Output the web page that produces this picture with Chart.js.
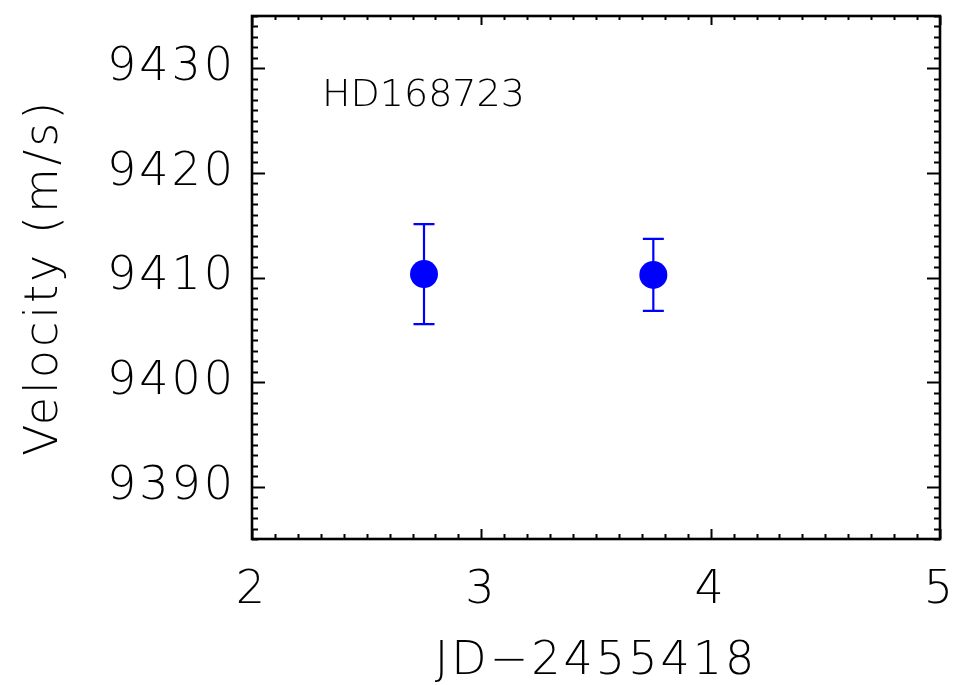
<!DOCTYPE html>
<html lang="en">
<head>
    <meta charset="UTF-8">
    <title>HD168723 velocity</title>
    <style>
        body {
            margin: 0;
            padding: 0;
            background-color: #fff;
        }
        #wrap {
            width: 960px;
            height: 685px;
        }
    </style>
    <script src="https://cdn.jsdelivr.net/npm/chart.js"></script>
</head>
<body>
    <div id="wrap"><canvas id="rv-chart" width="960" height="685"></canvas></div>

    <script>
        // data
        const starName = 'HD168723';
        const jdOffset = [2.75, 3.75];
        const velocity = [9410.33, 9410.25];
        const velErr = [4.78, 3.45];

        const xTicks = [2, 3, 4, 5];
        const yTicks = [9390, 9400, 9410, 9420, 9430];

        const FONT = "'DejaVu Sans', sans-serif";

        // the original font is a wide stroke font, so spread the letters a little
        const spacingPlugin = {
            id: 'spacing',
            beforeDraw(chart) {
                chart.ctx.letterSpacing = '3px';
            }
        };

        // frame with inward ticks on all four sides, like IDL plots
        const framePlugin = {
            id: 'frame',
            afterDraw(chart) {
                const ctx = chart.ctx;
                const a = chart.chartArea;
                const xs = chart.scales.x;
                const ys = chart.scales.y;
                ctx.save();
                ctx.strokeStyle = '#000';
                ctx.lineWidth = 2;
                ctx.beginPath();
                // x ticks: minor every 0.1
                for (let i = 0; i <= 30; i++) {
                    const v = 2 + i / 10;
                    const px = Math.round(xs.getPixelForValue(v)) + 0.5;
                    const major = i % 10 === 0;
                    const lb = major ? 10 : 5;
                    const lt = major ? 9 : 4;
                    ctx.moveTo(px, a.bottom);
                    ctx.lineTo(px, a.bottom - lb);
                    ctx.moveTo(px, a.top);
                    ctx.lineTo(px, a.top + lt);
                }
                // y ticks: minor every 1
                for (let v = 9385; v <= 9435; v++) {
                    const py = Math.round(ys.getPixelForValue(v)) + 0.5;
                    const major = v % 10 === 0;
                    const len = major ? 13 : 6;
                    ctx.moveTo(a.left, py);
                    ctx.lineTo(a.left + len, py);
                    ctx.moveTo(a.right, py);
                    ctx.lineTo(a.right - len, py);
                }
                ctx.stroke();
                ctx.lineWidth = 2.6;
                ctx.strokeRect(a.left, a.top, a.right - a.left, a.bottom - a.top);

                // star label
                ctx.letterSpacing = '0px';
                ctx.fillStyle = '#000';
                ctx.font = '200 38px ' + FONT;
                ctx.textAlign = 'left';
                ctx.textBaseline = 'middle';
                ctx.fillText(starName, xs.getPixelForValue(2.305), ys.getPixelForValue(9427.3));
                ctx.restore();
            }
        };

        // vertical error bars with caps
        const errorBarPlugin = {
            id: 'errorBars',
            beforeDatasetsDraw(chart) {
                const ctx = chart.ctx;
                const xs = chart.scales.x;
                const ys = chart.scales.y;
                ctx.save();
                ctx.strokeStyle = '#0000ff';
                ctx.lineWidth = 2.2;
                ctx.beginPath();
                for (let i = 0; i < jdOffset.length; i++) {
                    const px = xs.getPixelForValue(jdOffset[i]);
                    const top = ys.getPixelForValue(velocity[i] + velErr[i]);
                    const bot = ys.getPixelForValue(velocity[i] - velErr[i]);
                    ctx.moveTo(px, top);
                    ctx.lineTo(px, bot);
                    ctx.moveTo(px - 10.5, top);
                    ctx.lineTo(px + 10.5, top);
                    ctx.moveTo(px - 10.5, bot);
                    ctx.lineTo(px + 10.5, bot);
                }
                ctx.stroke();
                ctx.restore();
            }
        };

        const points = jdOffset.map((x, i) => ({ x: x, y: velocity[i] }));

        new Chart(document.getElementById('rv-chart'), {
            type: 'scatter',
            data: {
                datasets: [{
                    data: points,
                    backgroundColor: '#0000ff',
                    borderColor: '#0000ff',
                    pointRadius: 14,
                    pointHoverRadius: 14,
                    borderWidth: 0
                }]
            },
            options: {
                responsive: false,
                animation: false,
                events: [],
                layout: { padding: { top: 16, right: 20, left: 0, bottom: 0 } },
                plugins: {
                    legend: { display: false },
                    tooltip: { enabled: false }
                },
                scales: {
                    x: {
                        type: 'linear',
                        min: 2,
                        max: 5,
                        afterFit(scale) {
                            scale.height = 146;
                            scale.paddingLeft = 0;
                            scale.paddingRight = 0;
                        },
                        afterBuildTicks(scale) { scale.ticks = xTicks.map(v => ({ value: v })); },
                        grid: { display: true, drawOnChartArea: false, drawTicks: false },
                        border: { display: false },
                        ticks: {
                            color: '#000',
                            padding: 24,
                            maxRotation: 0,
                            callback: v => String(v),
                            font: { family: FONT, size: 46, weight: '200' }
                        },
                        title: {
                            display: true,
                            text: 'JD\u22122455418',
                            color: '#000',
                            padding: { top: 0, bottom: 0 },
                            font: { family: FONT, size: 46, weight: '200', lineHeight: 1.0 }
                        }
                    },
                    y: {
                        type: 'linear',
                        min: 9385,
                        max: 9435,
                        afterFit(scale) {
                            scale.width = 252;
                            scale.paddingTop = 0;
                            scale.paddingBottom = 0;
                        },
                        afterBuildTicks(scale) { scale.ticks = yTicks.map(v => ({ value: v })); },
                        grid: { display: true, drawOnChartArea: false, drawTicks: false },
                        border: { display: false },
                        ticks: {
                            color: '#000',
                            padding: 16,
                            callback: v => String(v),
                            font: { family: FONT, size: 46, weight: '200' }
                        },
                        title: {
                            display: true,
                            text: 'Velocity (m/s)',
                            color: '#000',
                            padding: { top: 22, bottom: 0 },
                            font: { family: FONT, size: 46, weight: '200', lineHeight: 1.0 }
                        }
                    }
                }
            },
            plugins: [spacingPlugin, errorBarPlugin, framePlugin]
        });
    </script>
</body>
</html>
